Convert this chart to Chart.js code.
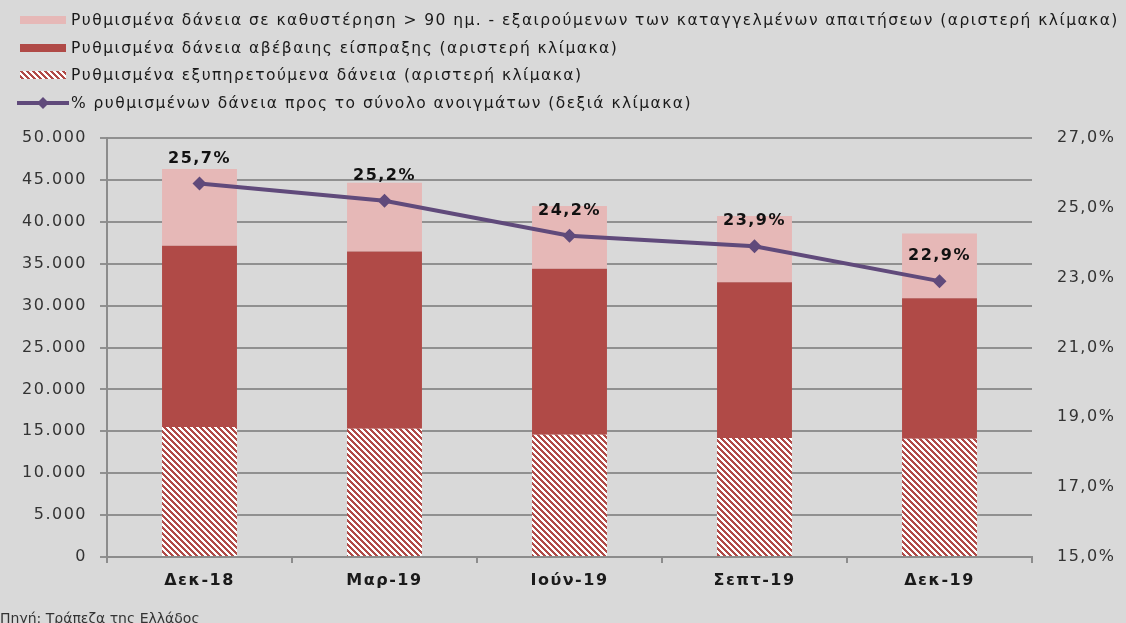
<!DOCTYPE html>
<html lang="el">
<head>
<meta charset="utf-8">
<title>Ρυθμισμένα δάνεια</title>
<script src="https://cdn.jsdelivr.net/npm/chart.js@4.4.1/dist/chart.umd.min.js"></script>
<style>
  html, body {
    margin: 0;
    padding: 0;
    width: 1126px;
    height: 623px;
    overflow: hidden;
    background: #d9d9d9;
    font-family: "DejaVu Sans", Verdana, sans-serif;
  }
  #wrap { position: relative; width: 1126px; height: 623px; }
  #chart { position: absolute; left: 0; top: 0; }
  .legend-item {
    position: absolute;
    left: 17px;
    height: 20px;
    display: flex;
    align-items: center;
    font-size: 15.5px;
    letter-spacing: 1.45px;
    color: #1a1a1a;
    white-space: nowrap;
  }
  .swatch { width: 46px; height: 8px; margin: 0 5px 0 3px; }
  .source {
    position: absolute;
    left: 0;
    top: 610px;
    font-size: 14px;
    color: #333;
    white-space: nowrap;
  }
</style>
</head>
<body>
<div id="wrap">
  <canvas id="chart" width="1126" height="623"></canvas>
  <div id="legend"></div>
  <div class="source">Πηγή: Τράπεζα της Ελλάδος</div>
</div>
<script>
// ===================================
// DATA
// ===================================
const categories = ['Δεκ-18', 'Μαρ-19', 'Ιούν-19', 'Σεπτ-19', 'Δεκ-19'];
const performingLoans = [15500, 15300, 14600, 14200, 14100];
const unlikelyToPay = [21650, 21170, 19800, 18600, 16770];
const overdue90 = [9150, 8190, 7500, 7900, 7730];
const restructuredShare = [25.7, 25.2, 24.2, 23.9, 22.9];

const labels = [
  'Ρυθμισμένα δάνεια σε καθυστέρηση > 90 ημ. - εξαιρούμενων των καταγγελμένων απαιτήσεων (αριστερή κλίμακα)',
  'Ρυθμισμένα δάνεια αβέβαιης είσπραξης (αριστερή κλίμακα)',
  'Ρυθμισμένα εξυπηρετούμενα δάνεια (αριστερή κλίμακα)',
  '% ρυθμισμένων δάνεια προς το σύνολο ανοιγμάτων (δεξιά κλίμακα)'
];

const PINK = '#e6b8b7';
const RED = '#b04a47';
const PURPLE = '#604a7b';
const FONT = '"DejaVu Sans", Verdana, sans-serif';

// HATCH: κόκκινες διαγώνιες σε λευκό
function makeHatchCanvas() {
  const n = 6;
  const c = document.createElement('canvas');
  c.width = n;
  c.height = n;
  const g = c.getContext('2d');
  g.fillStyle = '#ffffff';
  g.fillRect(0, 0, n, n);
  g.fillStyle = RED;
  for (let y = 0; y < n; y++) {
    for (let x = 0; x < n; x++) {
      if (((x - y) % n + n) % n < 3) g.fillRect(x, y, 1, 1);
    }
  }
  return c;
}
const hatchTile = makeHatchCanvas();
const ctx = document.getElementById('chart').getContext('2d');
const hatch = ctx.createPattern(hatchTile, 'repeat');

// LEGEND (HTML)
function renderLegend() {
  const rows = [20, 48, 75, 103];
  const swatches = [
    `<div class="swatch" style="background:${PINK}"></div>`,
    `<div class="swatch" style="background:${RED}"></div>`,
    `<div class="swatch" style="background-image:url(${hatchTile.toDataURL()})"></div>`,
    `<svg width="52" height="14" style="margin-right:2px">
       <line x1="0" y1="7" x2="52" y2="7" stroke="${PURPLE}" stroke-width="4"/>
       <polygon points="26,1 32,7 26,13 20,7" fill="${PURPLE}"/>
     </svg>`
  ];
  document.getElementById('legend').innerHTML = labels.map((txt, i) => `
    <div class="legend-item" style="top:${rows[i] - 10}px">
      ${swatches[i]}<span>${txt}</span>
    </div>
  `).join('');
}
renderLegend();

// PLUGINS
const spacingPlugin = {
  id: 'spacing',
  beforeUpdate(chart) { chart.ctx.letterSpacing = '1.5px'; },
  beforeDraw(chart) { chart.ctx.letterSpacing = '1.5px'; }
};

const pointLabels = {
  id: 'pointLabels',
  afterDatasetsDraw(chart) {
    const meta = chart.getDatasetMeta(3);
    const c = chart.ctx;
    c.save();
    c.font = `bold 16px ${FONT}`;
    c.fillStyle = '#111111';
    c.textAlign = 'center';
    c.textBaseline = 'middle';
    meta.data.forEach((pt, i) => {
      const txt = restructuredShare[i].toFixed(1).replace('.', ',') + '%';
      c.fillText(txt, pt.x, pt.y - 25);
    });
    c.restore();
  }
};

// CHART
new Chart(ctx, {
  type: 'bar',
  data: {
    labels: categories,
    datasets: [
      { label: labels[2], data: performingLoans, backgroundColor: hatch, yAxisID: 'y', order: 1 },
      { label: labels[1], data: unlikelyToPay, backgroundColor: RED, yAxisID: 'y', order: 1 },
      { label: labels[0], data: overdue90, backgroundColor: PINK, yAxisID: 'y', order: 1 },
      {
        type: 'line',
        label: labels[3],
        data: restructuredShare,
        yAxisID: 'y1',
        order: 0,
        borderColor: PURPLE,
        borderWidth: 4,
        backgroundColor: PURPLE,
        pointStyle: 'rectRot',
        pointRadius: 7,
        pointBackgroundColor: PURPLE,
        pointBorderWidth: 0,
        tension: 0
      }
    ]
  },
  options: {
    responsive: false,
    animation: false,
    devicePixelRatio: 1,
    layout: { padding: { top: 138, left: 0, right: 0, bottom: 0 } },
    datasets: { bar: { barPercentage: 1, categoryPercentage: 0.405 } },
    plugins: { legend: { display: false }, tooltip: { enabled: false } },
    scales: {
      x: {
        stacked: true,
        grid: { drawOnChartArea: false, drawTicks: true, tickLength: 6, color: '#8c8c8c', lineWidth: 2 },
        border: { display: true, color: '#8c8c8c', width: 2 },
        ticks: { font: { family: FONT, size: 16, weight: 'bold' }, color: '#1a1a1a', padding: 8 },
        afterFit: s => { s.height = 66; }
      },
      y: {
        stacked: true,
        position: 'left',
        min: 0,
        max: 50000,
        ticks: {
          stepSize: 5000,
          padding: 13,
          color: '#333333',
          font: { family: FONT, size: 16 },
          callback: v => v.toLocaleString('de-DE')
        },
        grid: { color: '#909090', lineWidth: 2, tickLength: 7, drawTicks: true },
        border: { display: true, color: '#8c8c8c', width: 2 },
        afterFit: s => { s.width = 107; }
      },
      y1: {
        position: 'right',
        min: 15,
        max: 27,
        ticks: {
          stepSize: 2,
          padding: 25,
          color: '#333333',
          font: { family: FONT, size: 16 },
          callback: v => v.toFixed(1).replace('.', ',') + '%'
        },
        grid: { drawOnChartArea: false, drawTicks: false },
        border: { display: false },
        afterFit: s => { s.width = 94; }
      }
    }
  },
  plugins: [spacingPlugin, pointLabels]
});
</script>
</body>
</html>
